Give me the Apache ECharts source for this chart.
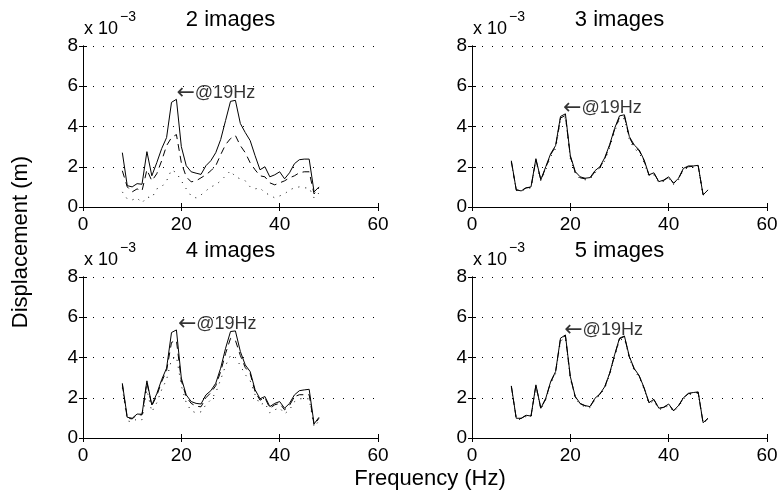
<!DOCTYPE html>
<html>
<head>
<meta charset="utf-8">
<script src="https://cdn.jsdelivr.net/npm/echarts@6/dist/echarts.min.js"></script>
<style>
  html, body { margin: 0; padding: 0; background: #fff; }
  #chart { width: 784px; height: 494px; }
</style>
</head>
<body>
<div id="chart"></div>
<script>
// frequency points (Hz), shared by every panel
const freq = [8,9,10,11,12,13,14,15,16,17,18,19,20,21,22,23,24,25,26,27,28,
              29,30,31,32,33,34,35,36,37,38,39,40,41,42,43,44,45,46,47,48];

// displacement, in units of 1e-3 m
// 2 images
const solid2 = [2.7,1.06,1.0,1.16,1.13,2.75,1.55,2.2,2.9,3.45,5.2,5.35,3.0,2.05,1.75,1.68,1.62,2.05,2.3,2.7,3.35,
                4.3,5.25,5.3,4.15,3.7,3.3,2.55,1.85,2.0,1.5,1.6,1.75,1.4,1.7,2.15,2.35,2.38,2.38,0.75,1.0];
const dash2  = [1.8,1.0,0.75,0.9,0.8,1.85,1.3,1.65,2.3,3.05,3.45,3.6,2.2,1.5,1.25,1.3,1.45,1.6,1.8,2.05,2.6,
                3.1,3.4,3.55,3.05,2.7,2.2,1.85,1.55,1.5,1.2,1.1,1.2,1.3,1.45,1.55,1.7,1.75,1.75,0.65,0.95];
const dot2   = [0.75,0.4,0.35,0.45,0.2,0.5,0.45,0.9,1.0,1.3,1.85,1.7,1.3,0.9,0.55,0.45,0.6,0.8,1.0,1.1,1.3,
                1.55,1.8,1.5,1.4,1.3,1.0,0.9,0.95,0.7,0.6,0.45,0.55,0.65,0.85,0.95,1.0,0.95,0.95,0.45,0.7];
// 3 images
const solid3 = [2.3,0.85,0.8,0.95,1.0,2.4,1.35,2.0,2.65,3.05,4.5,4.63,2.55,1.76,1.5,1.43,1.46,1.8,2.0,2.45,3.1,
                3.9,4.53,4.58,3.5,3.08,2.84,2.34,1.6,1.7,1.26,1.34,1.5,1.18,1.43,1.92,2.04,2.04,2.07,0.6,0.85];
const dash3  = [2.25,0.85,0.82,0.95,0.98,2.35,1.35,1.95,2.6,3.0,4.42,4.55,2.5,1.72,1.45,1.4,1.43,1.75,1.95,2.4,3.05,
                3.85,4.45,4.5,3.45,3.0,2.8,2.3,1.58,1.68,1.25,1.32,1.48,1.18,1.4,1.9,2.0,2.02,2.05,0.62,0.85];
const dot3   = [2.2,0.82,0.78,0.9,0.95,2.3,1.3,1.85,2.5,2.9,4.3,4.45,2.4,1.65,1.4,1.35,1.38,1.7,1.9,2.3,2.95,
                3.75,4.35,4.4,3.35,2.9,2.7,2.2,1.52,1.6,1.2,1.28,1.42,1.12,1.35,1.85,1.95,1.98,2.0,0.58,0.8];
// 4 images
const solid4 = [2.72,1.03,0.98,1.19,1.18,2.84,1.64,2.2,2.9,3.47,5.24,5.37,2.97,2.14,1.81,1.72,1.69,2.14,2.35,2.72,3.47,
                4.46,5.29,5.32,4.3,3.63,3.3,2.4,1.95,2.06,1.56,1.72,1.81,1.48,1.72,2.14,2.35,2.39,2.42,0.7,1.03];
const dash4  = [2.65,0.98,0.95,1.15,1.15,2.75,1.6,2.1,2.8,3.35,4.75,4.85,2.85,2.05,1.72,1.58,1.55,2.0,2.25,2.6,3.3,
                4.2,4.95,4.85,4.1,3.5,3.2,2.3,1.88,2.0,1.48,1.65,1.72,1.4,1.62,2.05,2.15,2.15,2.15,0.65,0.98];
const dot4   = [2.5,0.85,0.8,0.95,0.9,2.4,1.3,1.75,2.4,2.9,3.9,4.05,2.6,1.75,1.35,1.25,1.3,1.65,1.9,2.25,2.9,
                3.6,4.1,4.0,3.6,3.15,2.85,2.15,1.65,1.75,1.25,1.4,1.5,1.2,1.4,1.8,1.95,1.95,1.95,0.55,0.85];
// 5 images
const solid5 = [2.59,0.98,0.98,1.13,1.09,2.64,1.48,1.97,2.8,3.3,4.96,5.12,3.05,2.06,1.72,1.61,1.56,1.97,2.19,2.55,3.22,
                4.13,4.96,5.07,4.05,3.45,3.1,2.5,1.76,1.92,1.48,1.53,1.69,1.36,1.61,2.0,2.22,2.26,2.29,0.76,0.98];
const dash5  = [2.57,0.97,0.97,1.12,1.08,2.62,1.47,1.95,2.78,3.28,4.93,5.08,3.02,2.04,1.7,1.6,1.55,1.95,2.17,2.53,3.2,
                4.1,4.93,5.04,4.02,3.42,3.08,2.48,1.75,1.9,1.47,1.52,1.67,1.35,1.6,1.98,2.2,2.24,2.27,0.75,0.97];
const dot5   = [2.5,0.92,0.93,1.07,1.03,2.55,1.42,1.9,2.7,3.2,4.82,4.98,2.95,1.98,1.65,1.55,1.5,1.9,2.12,2.47,3.12,
                4.02,4.85,4.95,3.95,3.35,3.02,2.42,1.7,1.85,1.42,1.47,1.62,1.3,1.55,1.93,2.15,2.2,2.22,0.72,0.93];

const titles = ['2 images', '3 images', '4 images', '5 images'];
const panels = [[solid2, dash2, dot2], [solid3, dash3, dot3], [solid4, dash4, dot4], [solid5, dash5, dot5]];
const annX = [19.0, 18.5, 19.3, 18.75];
const annY = [5.65, 4.9, 5.65, 5.35];

const FONT = '"Liberation Sans", Arial, Helvetica, sans-serif';
const TICK_FS = 19;
const TITLE_FS = 22;

const boxes = [
  { left: 83, top: 46 }, { left: 472, top: 46 },
  { left: 83, top: 277 }, { left: 472, top: 277 }
];
const W = 295, H = 161;

const chart = echarts.init(document.getElementById('chart'));

const grid = [], xAxis = [], yAxis = [], series = [], graphic = [];
const lineTypes = ['solid', [7, 5], [1, 6]];

boxes.forEach((b, i) => {
  grid.push({ left: b.left, top: b.top, width: W, height: H, show: false });

  const axLine = { show: true, lineStyle: { color: '#000', width: 1 } };
  const tick = { show: true, inside: true, length: 4, lineStyle: { color: '#000' } };
  // bottom / left axes with labels
  xAxis.push({
    gridIndex: i, type: 'value', min: 0, max: 60, interval: 20, position: 'bottom',
    axisLine: axLine, axisTick: tick, splitLine: { show: false },
    axisLabel: { color: '#000', fontSize: TICK_FS, fontFamily: FONT, margin: 8 }
  });
  yAxis.push({
    gridIndex: i, type: 'value', min: 0, max: 8, interval: 2, position: 'left',
    axisLine: axLine, axisTick: tick,
    splitLine: { show: true, lineStyle: { color: '#000', type: [1, 9], width: 1 } },
    axisLabel: { color: '#000', fontSize: TICK_FS, fontFamily: FONT, margin: 5 }
  });
  // mirrored top / right axes to close the box
  xAxis.push({
    gridIndex: i, type: 'value', min: 0, max: 60, interval: 20, position: 'top',
    axisLine: axLine, axisTick: tick, axisLabel: { show: false }, splitLine: { show: false }
  });
  yAxis.push({
    gridIndex: i, type: 'value', min: 0, max: 8, interval: 2, position: 'right',
    axisLine: axLine, axisTick: tick, axisLabel: { show: false }, splitLine: { show: false }
  });

  panels[i].forEach((arr, k) => {
    series.push({
      type: 'line', xAxisIndex: 2 * i, yAxisIndex: 2 * i,
      data: freq.map((f, j) => [f, arr[j]]),
      symbol: 'none', silent: true,
      lineStyle: { color: '#000', width: 1, type: lineTypes[k] }
    });
  });

  // "<-@19Hz" note
  series.push({
    type: 'scatter', xAxisIndex: 2 * i, yAxisIndex: 2 * i,
    data: [[annX[i], annY[i]]], symbolSize: 0, silent: true,
    label: {
      show: true, position: 'right', distance: 0,
      formatter: '{arr|\u2190}@19Hz',
      color: '#000', fontSize: 18, fontFamily: FONT,
      rich: { arr: { fontFamily: '"DejaVu Sans"', fontSize: 22, color: '#000' } }
    }
  });

  const cx = b.left + W / 2;
  graphic.push({
    type: 'text', x: cx, y: b.top - 26,
    style: { text: titles[i], fill: '#000', font: TITLE_FS + 'px ' + FONT, textAlign: 'center', textVerticalAlign: 'middle' }
  });
  graphic.push({
    type: 'text', x: b.left + 1, y: b.top - 17,
    style: { text: 'x 10', fill: '#000', font: '18px ' + FONT, textAlign: 'left', textVerticalAlign: 'middle' }
  });
  graphic.push({
    type: 'text', x: b.left + 37, y: b.top - 29,
    style: { text: '\u22123', fill: '#000', font: '14px ' + FONT, textAlign: 'left', textVerticalAlign: 'middle' }
  });
});

graphic.push({
  type: 'text', x: 21, y: 242, rotation: Math.PI / 2,
  style: { text: 'Displacement (m)', fill: '#000', font: TITLE_FS + 'px ' + FONT, textAlign: 'center', textVerticalAlign: 'middle' }
});
graphic.push({
  type: 'text', x: 430, y: 479,
  style: { text: 'Frequency (Hz)', fill: '#000', font: TITLE_FS + 'px ' + FONT, textAlign: 'center', textVerticalAlign: 'middle' }
});

chart.setOption({
  animation: false,
  backgroundColor: '#fff',
  grid: grid,
  xAxis: xAxis,
  yAxis: yAxis,
  series: series,
  graphic: graphic
});
</script>
</body>
</html>
